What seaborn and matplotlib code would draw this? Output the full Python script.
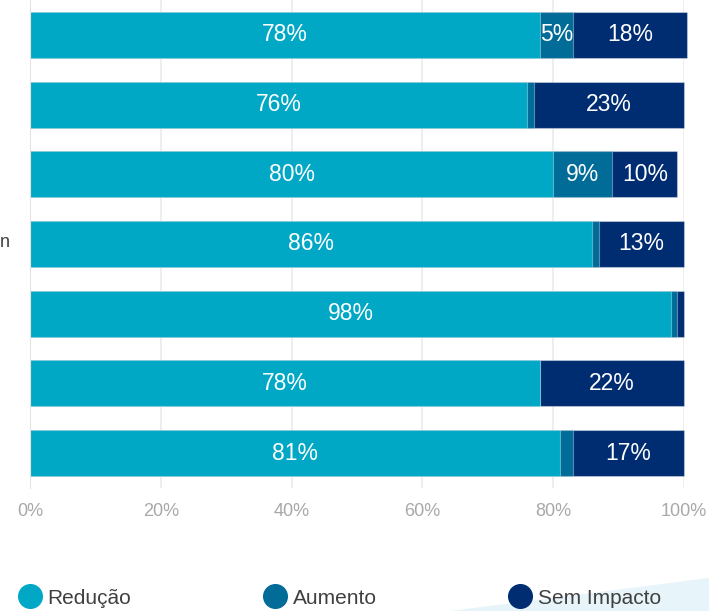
import numpy as np
import pandas as pd
import matplotlib
matplotlib.use('Agg')
import matplotlib.pyplot as plt
import seaborn as sns
from matplotlib.lines import Line2D
from matplotlib.patches import Polygon

# dados (rótulos das categorias ficaram cortados na imagem original)
categorias = ['Item 1', 'Item 2', 'Item 3', 'Item 4', 'Item 5', 'Item 6', 'Item 7']
reducao = [78, 76, 80, 86, 98, 78, 81]
aumento = [5, 1, 9, 1, 1, 0, 2]
sem_impacto = [17.5, 23, 10, 13, 1, 22, 17]
series = ['Redução', 'Aumento', 'Sem Impacto']
cores = ['#00a8c6', '#026c99', '#002d72']
xticks = [0, 20, 40, 60, 80, 100]

df = pd.DataFrame({'cat': categorias, 'Redução': reducao,
                   'Aumento': aumento, 'Sem Impacto': sem_impacto})
df['c1'] = df['Redução']
df['c2'] = df['c1'] + df['Aumento']
df['c3'] = df['c2'] + df['Sem Impacto']

sns.set_style('white')
plt.rcParams['font.family'] = ['Liberation Sans', 'DejaVu Sans']

fig = plt.figure(figsize=(7.09, 6.11), dpi=100)
# detalhe decorativo no canto inferior direito
fig.patches.append(Polygon([(450 / 709, 0), (1, 0), (1, 33 / 611)], closed=True,
                           transform=fig.transFigure, facecolor='#e7f4f9',
                           edgecolor='none', zorder=0))
ax = fig.add_axes([30 / 709, 1 - 488 / 611, 654 / 709, 488 / 611])
ax.patch.set_alpha(0)

# barras empilhadas: desenha o total e por cima as somas parciais
for col, cor in zip(['c3', 'c2', 'c1'], cores[::-1]):
    sns.barplot(data=df, x=col, y='cat', order=categorias, orient='h',
                color=cor, width=0.66, edgecolor=(1, 1, 1, 0.35),
                linewidth=0.8, saturation=1, ax=ax)
for p in ax.patches:
    p.set_clip_on(False)  # a primeira barra passa um pouco de 100%

# rótulos dentro das barras
for i, row in df.iterrows():
    inicio = 0
    for s in series:
        v = row[s]
        if v >= 3:
            ax.text(inicio + v / 2, i, f'{v:.0f}%', ha='center', va='center',
                    color='white', fontsize=16.5)
        inicio += v

ax.set_xlim(0, 100)
ax.set_ylim(6.5, -0.5)
ax.set_xticks(xticks)
ax.set_xticklabels([f'{t}%' for t in xticks], color='#a8a8a8', fontsize=13)
ax.set_yticks([])
ax.set_xlabel('')
ax.set_ylabel('')
ax.tick_params(axis='x', length=0, pad=11)
ax.xaxis.grid(True, color='#ebebeb', linewidth=1.2)
ax.set_axisbelow(True)
for s in ['top', 'right', 'bottom']:
    ax.spines[s].set_visible(False)
ax.spines['left'].set_color('#e3e3e3')

# pedaço do rótulo cortado à esquerda
fig.text(0, 1 - 243 / 611, 'n', ha='left', va='center', color='#404040', fontsize=13)

handles = [Line2D([], [], marker='o', linestyle='', markersize=17, color=c) for c in cores]
leg = fig.legend(handles, series, loc='center left', ncol=3, frameon=False,
                 bbox_to_anchor=(19.6 / 709, 1 - 598 / 611), borderpad=0,
                 borderaxespad=0, handlelength=1.0, handletextpad=0.34,
                 columnspacing=6.4, prop={'size': 15})
for t in leg.get_texts():
    t.set_color('#404040')

fig.savefig('out.png', dpi=100)
